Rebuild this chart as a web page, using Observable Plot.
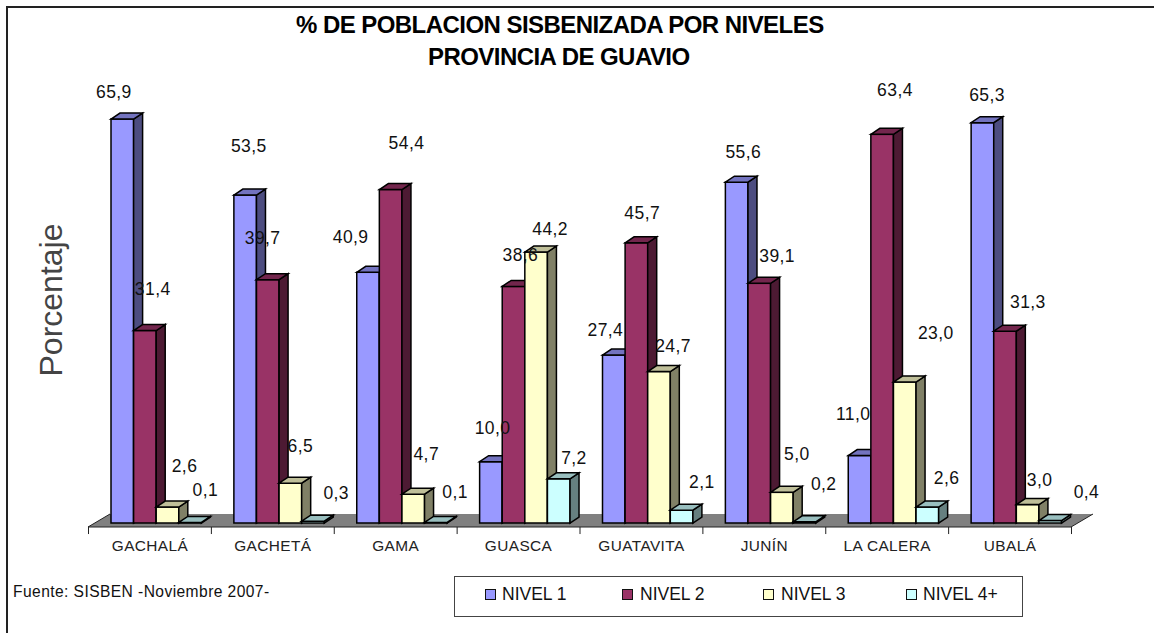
<!DOCTYPE html>
<html>
<head>
<meta charset="utf-8">
<script src="https://cdn.jsdelivr.net/npm/d3@7"></script>
<script src="https://cdn.jsdelivr.net/npm/@observablehq/plot@0.6"></script>
<style>
html,body{margin:0;padding:0;background:#fff;}
#page{position:relative;width:1154px;height:633px;overflow:hidden;font-family:"Liberation Sans",Arial,sans-serif;color:#111;}
#page svg{position:absolute;left:0;top:0;background:transparent;}
#frame{position:absolute;left:6px;top:6px;right:-2px;bottom:-2px;border-top:2px solid #222;border-left:2px solid #222;}
.title{position:absolute;left:0;font-weight:bold;font-size:24px;letter-spacing:-.55px;color:#000;white-space:nowrap;line-height:26px;}
#ylab{position:absolute;left:64px;top:300px;font-size:32px;color:#444;white-space:nowrap;}
#source{position:absolute;left:13px;top:583px;font-size:15.6px;letter-spacing:.42px;white-space:nowrap;line-height:18px;}
#legend{position:absolute;left:454px;top:576px;width:567px;height:39px;border:1px solid #444;box-sizing:content-box;}
#legend .sw{position:absolute;top:12px;width:9px;height:9px;border:1.5px solid #111;}
#legend .tx{position:absolute;top:6px;font-size:17.5px;line-height:22px;white-space:nowrap;}
</style>
</head>
<body>
<div id="page">
  <div id="chart"></div>
  <div id="frame"></div>
  <div class="title" id="t1" style="top:12px;left:296px">% DE POBLACION SISBENIZADA POR NIVELES</div>
  <div class="title" id="t2" style="top:44px;left:428px">PROVINCIA DE GUAVIO</div>
  <div id="ylab">Porcentaje</div>
  <div id="source">Fuente: SISBEN -Noviembre 2007-</div>
  <div id="legend"></div>
</div>
<script>
const municipios = ["GACHALÁ","GACHETÁ","GAMA","GUASCA","GUATAVITA","JUNÍN","LA CALERA","UBALÁ"];
const niveles = ["NIVEL 1","NIVEL 2","NIVEL 3","NIVEL 4+"];
const colores = ["#9999FF","#993366","#FFFFCC","#CCFFFF"];
const nivel1 = [65.9,53.5,40.9,10.0,27.4,55.6,11.0,65.3];
const nivel2 = [31.4,39.7,54.4,38.6,45.7,39.1,63.4,31.3];
const nivel3 = [2.6,6.5,4.7,44.2,24.7,5.0,23.0,3.0];
const nivel4 = [0.1,0.3,0.1,7.2,2.1,0.2,2.6,0.4];
const series = [nivel1,nivel2,nivel3,nivel4];

// Hand placement of each value label relative to its bar, per level and municipality
const labelDx = [
  [-9,3,-18,1,-9,6,-7,4],
  [7,-6,15,6,5,17,12,22],
  [16,9,12,13,13,14,30,11],
  [14,22,18,14,19,18,18,35]
];
const labelDy = [
  [-27,-49,-35,-34,-25,-30,-42,-28],
  [-42,-42,-47,-31,-30,-27,-44,-29],
  [-41,-37,-40,-23,-26,-38,-49,-25],
  [-32,-28,-30,-21,-28,-38,-29,-29]
];

const table = series.flatMap((vals,j)=>vals.map((v,i)=>({municipio:municipios[i],nivel:niveles[j],valor:v,j,i})));

const step = (1071-88)/municipios.length;
const groupInset = 23, barW = 22.6, depthX = 9, depthY = 6;
const fmt = v => v.toFixed(1).replace(".",",");

function shade(c,k){const r=d3.rgb(c);return d3.rgb(r.r*k,r.g*k,r.b*k).formatHex();}

// Adds the top and side faces of a 3D column from the bar that Plot has drawn
function faces(index,scales,values,dims,ctx,next){
  const g = next(index,scales,values,dims,ctx);
  g.querySelectorAll("rect").forEach(r=>{
    const x=+r.getAttribute("x"),y=+r.getAttribute("y"),w=+r.getAttribute("width"),h=+r.getAttribute("height");
    const f=r.getAttribute("fill");
    const NS="http://www.w3.org/2000/svg";
    const side=document.createElementNS(NS,"polygon");
    side.setAttribute("points",`${x+w},${y} ${x+w+depthX},${y-depthY} ${x+w+depthX},${y+h-depthY} ${x+w},${y+h}`);
    side.setAttribute("fill",shade(f,.5));
    const top=document.createElementNS(NS,"polygon");
    top.setAttribute("points",`${x},${y} ${x+depthX},${y-depthY} ${x+w+depthX},${y-depthY} ${x+w},${y}`);
    top.setAttribute("fill",shade(f,.75));
    r.after(side,top);
  });
  return g;
}

// Floor of the 3D chart, placed from the x and y scales
function floor(index,{x,y}){
  const x0=x(municipios[0]),x1=x(municipios[municipios.length-1])+x.bandwidth();
  const yf=y(0)+4,yb=y(0)-9,dx=22;
  const g=d3.create("svg:g");
  g.append("polygon").attr("points",`${x0},${yf} ${x0+dx},${yb} ${x1+dx},${yb} ${x1},${yf}`).attr("fill","#808080");
  g.append("polyline").attr("points",`${x0+dx},${yb} ${x0},${yf} ${x1},${yf} ${x1+dx},${yb}`).attr("fill","none").attr("stroke","#222").attr("stroke-width",1);
  return g.node();
}

const plot = Plot.plot({
  width:1154,height:633,
  marginLeft:88,marginRight:83,marginTop:94,marginBottom:106,
  style:{background:"transparent",fontFamily:"'Liberation Sans',Arial,sans-serif"},
  x:{type:"band",domain:municipios,range:[88,1071],padding:0,round:false,axis:null},
  y:{domain:[0,70],range:[523,523-70*6.13],axis:null},
  color:{domain:niveles,range:colores},
  marks:[
    floor,
    Plot.ruleX(municipios,{x:d=>d,dx:-step/2,y1:-0.65,y2:-1.8,stroke:"#222",strokeWidth:1}),
    Plot.ruleX(municipios.slice(-1),{x:d=>d,dx:step/2,y1:-0.65,y2:-1.8,stroke:"#222",strokeWidth:1}),
    ...niveles.map((n,j)=>Plot.barY(table.filter(d=>d.j===j),{
      x:"municipio",y:"valor",fill:"nivel",stroke:"#000",strokeWidth:1.5,
      insetLeft:groupInset+barW*j,
      insetRight:step-groupInset-barW*(j+1),
      render:faces
    })),
    ...table.map(d=>Plot.text([d],{
      x:"municipio",y:"valor",text:t=>fmt(t.valor),
      dx:groupInset+22.8*(d.j+.5)-step/2+labelDx[d.j][d.i],
      dy:labelDy[d.j][d.i],
      fontSize:17.5,fill:"#111"
    })),
    Plot.axisX({anchor:"bottom",tickSize:0,tickPadding:13,fontSize:15.4,label:null,color:"#222"})
  ]
});
plot.style.letterSpacing="0.4px";
document.getElementById("chart").append(plot);

const legendX = [30,167,308,451];
const legendTx = [47,185,326,468];
const lg = document.getElementById("legend");
niveles.forEach((n,j)=>{
  const s=document.createElement("div");s.className="sw";s.style.left=legendX[j]+"px";s.style.background=colores[j];lg.append(s);
  const t=document.createElement("div");t.className="tx";t.style.left=legendTx[j]+"px";t.textContent=n;lg.append(t);
});
document.getElementById("ylab").style.transform="translate(0,0) rotate(-90deg) translate(-50%,-85%)";
document.getElementById("ylab").style.transformOrigin="0 0";
</script>
</body>
</html>
